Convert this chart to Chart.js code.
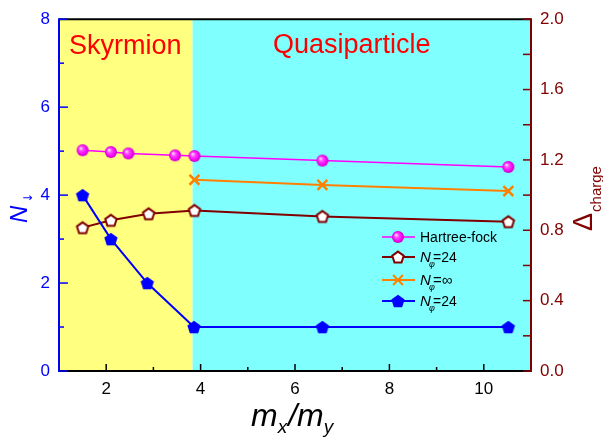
<!DOCTYPE html>
<html>
<head>
    <meta charset="utf-8">
    <title>Skyrmion / Quasiparticle</title>
    <script src="https://cdn.jsdelivr.net/npm/chart.js"></script>
    <style>
        html, body { margin: 0; padding: 0; background: #fff; }
        #wrap { width: 603px; height: 440px; position: relative; }
    </style>
</head>
<body>
<div id="wrap"><canvas id="chart"></canvas></div>
<script>
    // data (x = m_x/m_y)
    var hfX = [1.5, 2.1, 2.47, 3.46, 3.87, 6.58, 10.52];
    var hfGap = [1.255, 1.245, 1.237, 1.226, 1.222, 1.196, 1.160];

    var gapX = [1.5, 2.1, 2.9, 3.87, 6.58, 10.52];
    var gap24 = [0.815, 0.857, 0.894, 0.913, 0.879, 0.849];

    var infX = [3.87, 6.58, 10.52];
    var gapInf = [1.087, 1.058, 1.023];

    var nX = [1.5, 2.1, 2.87, 3.86, 6.58, 10.52];
    var nDown = [4, 3, 2, 1, 1, 1];

    var xTicks = [2, 4, 6, 8, 10];
    var xMinor = [3, 5, 7, 9];
    var leftTicks = [0, 2, 4, 6, 8];
    var leftMinor = [1, 3, 5, 7];
    var rightTicks = [0, 0.4, 0.8, 1.2, 1.6, 2.0];
    var rightMinor = [0.2, 0.6, 1.0, 1.4, 1.8];
    var boundary = 3.83; // skyrmion / quasiparticle border

    var FONT = '"Liberation Sans", Arial, Helvetica, sans-serif';
    var BLUE = '#0000ff', DARKRED = '#800000', MAGENTA = '#ff00ff', ORANGE = '#ff8000';

    function pentagon(r, fill, stroke, lw) {
        var c = document.createElement('canvas');
        c.width = c.height = Math.ceil(2 * r + 2 * lw + 2);
        var g = c.getContext('2d');
        var cx = c.width / 2, cy = c.height / 2 + r * 0.1;
        g.beginPath();
        for (var i = 0; i < 5; i++) {
            var a = -Math.PI / 2 + i * 2 * Math.PI / 5;
            g.lineTo(cx + r * Math.cos(a), cy + r * Math.sin(a));
        }
        g.closePath();
        g.fillStyle = fill;
        g.fill();
        if (stroke) {
            g.lineWidth = lw;
            g.strokeStyle = stroke;
            g.lineJoin = 'miter';
            g.stroke();
        }
        return c;
    }

    function sphere(r) {
        var c = document.createElement('canvas');
        c.width = c.height = Math.ceil(2 * r + 2);
        var g = c.getContext('2d');
        var cx = c.width / 2, cy = c.height / 2;
        var grad = g.createRadialGradient(cx - r * 0.35, cy - r * 0.35, 0.5, cx, cy, r);
        grad.addColorStop(0, '#ffd0ff');
        grad.addColorStop(0.35, '#ff40ff');
        grad.addColorStop(0.8, '#ee00ee');
        grad.addColorStop(1, '#c000c0');
        g.beginPath();
        g.arc(cx, cy, r, 0, Math.PI * 2);
        g.fillStyle = grad;
        g.fill();
        return c;
    }

    var bluePent = pentagon(7, BLUE, null, 0);
    var whitePent = pentagon(6, '#ffffff', DARKRED, 2);
    var magBall = sphere(6);

    function pts(xs, ys) {
        return xs.map(function (x, i) { return {x: x, y: ys[i]}; });
    }

    // shaded regions behind the data
    var regions = {
        id: 'regions',
        beforeDatasetsDraw: function (chart) {
            var ctx = chart.ctx, a = chart.chartArea, sx = chart.scales.x;
            var bx = sx.getPixelForValue(boundary);
            ctx.save();
            ctx.fillStyle = '#ffff80';
            ctx.fillRect(a.left, a.top, bx - a.left, a.bottom - a.top);
            ctx.fillStyle = '#80ffff';
            ctx.fillRect(bx, a.top, a.right - bx, a.bottom - a.top);
            ctx.restore();
        }
    };

    function tick(ctx, x1, y1, x2, y2) {
        ctx.beginPath();
        ctx.moveTo(x1, y1);
        ctx.lineTo(x2, y2);
        ctx.stroke();
    }

    // axes, ticks, labels, legend, titles
    var decor = {
        id: 'decor',
        afterDatasetsDraw: function (chart) {
            var ctx = chart.ctx, a = chart.chartArea;
            var sx = chart.scales.x, sy = chart.scales.y, sr = chart.scales.y2;
            ctx.save();
            ctx.lineCap = 'butt';

            // bottom / top
            ctx.strokeStyle = '#000';
            ctx.lineWidth = 2;
            tick(ctx, a.left, a.bottom, a.right, a.bottom);
            tick(ctx, a.left, a.top, a.right, a.top);
            ctx.lineWidth = 1.5;
            xTicks.forEach(function (v) { var p = sx.getPixelForValue(v); tick(ctx, p, a.bottom, p, a.bottom - 7); });
            xMinor.forEach(function (v) { var p = sx.getPixelForValue(v); tick(ctx, p, a.bottom, p, a.bottom - 4); });

            // left axis
            ctx.strokeStyle = BLUE;
            ctx.lineWidth = 2;
            tick(ctx, a.left, a.top - 1, a.left, a.bottom + 1);
            ctx.lineWidth = 1.5;
            leftTicks.forEach(function (v) { var p = sy.getPixelForValue(v); tick(ctx, a.left, p, a.left + 9, p); });
            leftMinor.forEach(function (v) { var p = sy.getPixelForValue(v); tick(ctx, a.left, p, a.left + 5, p); });

            // right axis
            ctx.strokeStyle = DARKRED;
            ctx.lineWidth = 2;
            tick(ctx, a.right, a.top - 1, a.right, a.bottom + 1);
            ctx.lineWidth = 1.5;
            rightTicks.forEach(function (v) { var p = sr.getPixelForValue(v); tick(ctx, a.right, p, a.right - 8, p); });
            rightMinor.forEach(function (v) { var p = sr.getPixelForValue(v); tick(ctx, a.right, p, a.right - 8, p); });

            // region names
            ctx.fillStyle = '#ff0000';
            ctx.font = '27px ' + FONT;
            ctx.textBaseline = 'alphabetic';
            ctx.textAlign = 'left';
            ctx.fillText('Skyrmion', 69, 54);
            ctx.fillText('Quasiparticle', 273, 53);

            // legend
            var rows = [
                {ds: 1, y: 237, label: 'Hartree-fock'},
                {ds: 2, y: 257, label: '=24', sub: true},
                {ds: 3, y: 280, label: '=\u221e', sub: true},
                {ds: 0, y: 301, label: '=24', sub: true}
            ];
            rows.forEach(function (r) {
                var d = chart.data.datasets[r.ds];
                ctx.strokeStyle = d.borderColor;
                ctx.lineWidth = d.borderWidth;
                tick(ctx, 382, r.y, 415, r.y);
                Chart.helpers.drawPoint(ctx, {
                    pointStyle: d.pointStyle, radius: d.pointRadius, rotation: 0,
                    borderWidth: d.pointBorderWidth || 1
                }, 398, r.y);
                ctx.fillStyle = '#000';
                ctx.textBaseline = 'alphabetic';
                var base = r.y + 5;
                if (r.sub) {
                    ctx.font = 'italic 15px ' + FONT;
                    ctx.fillText('N', 420, base);
                    ctx.font = 'italic 9px ' + FONT;
                    ctx.fillText('\u03c6', 429, base + 5);
                    ctx.font = (r.label.indexOf('\u221e') >= 0 ? '15px ' : '14px ') + FONT;
                    ctx.fillText(r.label, 433, base);
                } else {
                    ctx.font = '14px ' + FONT;
                    ctx.fillText(r.label, 420, base);
                }
            });

            // left title N with down arrow
            ctx.save();
            ctx.translate(27, 223);
            ctx.rotate(-Math.PI / 2);
            ctx.fillStyle = BLUE;
            ctx.font = 'italic 24px ' + FONT;
            ctx.fillText('N', 0, 0);
            ctx.font = '12px "DejaVu Sans", ' + FONT;
            ctx.fillText('\u2193', 20, 5);
            ctx.restore();

            // right title Delta_charge
            ctx.save();
            ctx.translate(592, 231);
            ctx.rotate(-Math.PI / 2);
            ctx.fillStyle = DARKRED;
            ctx.font = '27px ' + FONT;
            ctx.fillText('\u0394', 0, 0);
            var w = ctx.measureText('\u0394').width;
            ctx.font = '15px ' + FONT;
            ctx.fillText('charge', w + 1, 9);
            ctx.restore();

            // x title m_x / m_y
            ctx.fillStyle = '#000';
            var bx = 251, by = 426;
            ctx.font = 'italic 32px ' + FONT;
            ctx.fillText('m', bx, by);
            bx += ctx.measureText('m').width;
            ctx.font = 'italic 19px ' + FONT;
            ctx.fillText('x', bx, by + 7);
            bx += ctx.measureText('x').width + 1;
            ctx.font = 'italic 32px ' + FONT;
            ctx.fillText('/', bx, by);
            bx += ctx.measureText('/').width;
            ctx.fillText('m', bx, by);
            bx += ctx.measureText('m').width;
            ctx.font = 'italic 19px ' + FONT;
            ctx.fillText('y', bx, by + 7);

            ctx.restore();
        }
    };

    var ctx = document.getElementById('chart').getContext('2d');
    var chart = new Chart(ctx, {
        type: 'line',
        data: {
            datasets: [{
                label: 'N=24 (N down)',
                data: pts(nX, nDown),
                yAxisID: 'y',
                borderColor: BLUE,
                borderWidth: 2,
                pointStyle: bluePent,
                pointRadius: 7
            }, {
                label: 'Hartree-fock',
                data: pts(hfX, hfGap),
                yAxisID: 'y2',
                borderColor: MAGENTA,
                borderWidth: 1.5,
                pointStyle: magBall,
                pointRadius: 6
            }, {
                label: 'N=24',
                data: pts(gapX, gap24),
                yAxisID: 'y2',
                borderColor: DARKRED,
                borderWidth: 2,
                pointStyle: whitePent,
                pointRadius: 7
            }, {
                label: 'N=inf',
                data: pts(infX, gapInf),
                yAxisID: 'y2',
                borderColor: ORANGE,
                borderWidth: 2,
                pointStyle: 'crossRot',
                pointRadius: 7,
                pointBorderWidth: 2.5,
                pointBorderColor: ORANGE
            }]
        },
        options: {
            responsive: true,
            maintainAspectRatio: false,
            animation: false,
            layout: {padding: {top: 17, left: 0, right: 0, bottom: 0}},
            elements: {line: {tension: 0}},
            plugins: {legend: {display: false}, tooltip: {enabled: false}},
            scales: {
                x: {
                    type: 'linear', min: 1, max: 11,
                    grid: {display: false, drawTicks: false},
                    border: {display: false},
                    ticks: {color: '#000', font: {size: 17, family: FONT}, padding: 8},
                    afterBuildTicks: function (s) { s.ticks = xTicks.map(function (v) { return {value: v}; }); },
                    afterFit: function (s) { s.height = 69; }
                },
                y: {
                    position: 'left', min: 0, max: 8,
                    grid: {display: false, drawTicks: false},
                    border: {display: false},
                    ticks: {color: BLUE, font: {size: 17, family: FONT}, padding: 9},
                    afterBuildTicks: function (s) { s.ticks = leftTicks.map(function (v) { return {value: v}; }); },
                    afterFit: function (s) { s.width = 59; }
                },
                y2: {
                    position: 'right', min: 0, max: 2,
                    grid: {display: false, drawTicks: false},
                    border: {display: false},
                    ticks: {color: DARKRED, font: {size: 17, family: FONT}, padding: 9,
                        callback: function (v) { return v.toFixed(1); }},
                    afterBuildTicks: function (s) { s.ticks = rightTicks.map(function (v) { return {value: v}; }); },
                    afterFit: function (s) { s.width = 72; }
                }
            }
        },
        plugins: [regions, decor]
    });
</script>
</body>
</html>
